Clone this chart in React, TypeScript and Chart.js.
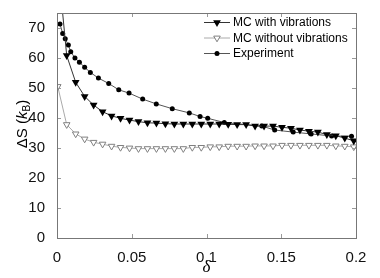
import React, { useEffect, useRef } from 'react';
import { Chart, registerables } from 'chart.js';

Chart.register(...registerables);

// MC grid of delta values
const mcDelta = [
  0.0005, 0.0065, 0.0125, 0.0185, 0.0245, 0.0305, 0.0365, 0.0425, 0.0485, 0.0545,
  0.0605, 0.0665, 0.0725, 0.0785, 0.0845, 0.0905, 0.0965, 0.1025, 0.1085, 0.1145,
  0.1205, 0.1265, 0.1325, 0.1385, 0.1445, 0.1505, 0.1565, 0.1625, 0.1685, 0.1745,
  0.1805, 0.1865, 0.1925, 0.1985,
];
const mcWithVib = [
  92, 60.8, 51.9, 47.2, 44.3, 42.1, 40.7, 39.9, 39.3, 38.8,
  38.4, 38.3, 38.1, 38.0, 38.0, 38.0, 38.0, 38.0, 38.0, 37.9,
  37.8, 37.8, 37.3, 37.3, 37.3, 36.9, 36.6, 36.0, 35.6, 35.3,
  34.5, 34.1, 33.3, 32.4,
];
const mcWithoutVib = [
  50.5, 37.8, 34.7, 33.0, 31.9, 31.3, 30.6, 30.2, 30.0, 29.8,
  29.8, 29.8, 29.8, 29.8, 29.8, 30.2, 30.2, 30.4, 30.4, 30.6,
  30.6, 30.6, 30.7, 30.7, 30.7, 30.9, 30.9, 30.9, 30.9, 30.9,
  30.9, 30.7, 30.6, 30.4,
];
const expDelta = [
  0.002, 0.0038, 0.0055, 0.0076, 0.0092, 0.012, 0.015, 0.0185, 0.0223, 0.0277,
  0.0346, 0.0413, 0.0482, 0.0573, 0.0664, 0.0771, 0.0885, 0.0957, 0.1008, 0.1119,
  0.137, 0.1456, 0.158, 0.17, 0.1837, 0.197,
];
const expValues = [
  71.3, 68.2, 66.4, 64.3, 62.1, 60.0, 58.6, 56.9, 55.2, 53.3,
  51.5, 49.4, 48.3, 46.3, 44.7, 43.1, 41.7, 40.5, 39.9, 38.5,
  37.3, 36.0, 35.3, 34.7, 34.0, 33.9,
];
const xTicks = [0, 0.05, 0.1, 0.15, 0.2];
const yTicks = [0, 10, 20, 30, 40, 50, 60, 70];
const seriesNames = ['MC with vibrations', 'MC without vibrations', 'Experiment'];

const SANS = "'Liberation Sans', Arial, sans-serif";

type Sty = { line: string; shape: 'tri' | 'otri' | 'circle'; r: number };
const legendStyles: Sty[] = [
  { line: '#333333', shape: 'tri', r: 4.5 },
  { line: '#aaaaaa', shape: 'otri', r: 3.8 },
  { line: '#555555', shape: 'circle', r: 2.5 },
];

function drawMarker(ctx: CanvasRenderingContext2D, x: number, y: number, s: Sty) {
  ctx.save();
  ctx.beginPath();
  if (s.shape === 'circle') {
    ctx.arc(x, y, s.r, 0, Math.PI * 2);
    ctx.fillStyle = '#000';
    ctx.fill();
  } else {
    const r = s.r;
    for (let i = 0; i < 3; i++) {
      const a = Math.PI + (i * 2 * Math.PI) / 3;
      const px = x + Math.sin(a) * r;
      const py = y - Math.cos(a) * r;
      if (i === 0) ctx.moveTo(px, py);
      else ctx.lineTo(px, py);
    }
    ctx.closePath();
    if (s.shape === 'tri') {
      ctx.fillStyle = '#000';
      ctx.fill();
    } else {
      ctx.fillStyle = '#fff';
      ctx.fill();
      ctx.strokeStyle = '#808080';
      ctx.lineWidth = 1;
      ctx.stroke();
    }
  }
  ctx.restore();
}

const decorPlugin = {
  id: 'decor',
  afterDraw(chart: any) {
    const { ctx, chartArea: a, scales } = chart;
    const xs = scales.x;
    const ys = scales.y;
    ctx.save();
    // tick marks
    ctx.strokeStyle = '#9a9a9a';
    ctx.lineWidth = 1;
    ctx.beginPath();
    xTicks.forEach((v) => {
      const px = Math.round(xs.getPixelForValue(v)) + 0.5;
      ctx.moveTo(px, a.bottom);
      ctx.lineTo(px, a.bottom - 4);
      ctx.moveTo(px, a.top);
      ctx.lineTo(px, a.top + 4);
    });
    yTicks.forEach((v) => {
      const py = Math.round(ys.getPixelForValue(v)) + 0.5;
      ctx.moveTo(a.left, py);
      ctx.lineTo(a.left + 4, py);
      ctx.moveTo(a.right, py);
      ctx.lineTo(a.right - 4, py);
    });
    ctx.stroke();
    // box
    ctx.strokeStyle = '#777';
    ctx.strokeRect(Math.round(a.left) + 0.5, Math.round(a.top) + 0.5, Math.round(a.right - a.left), Math.round(a.bottom - a.top));

    // legend
    const lx0 = 204, lx1 = 230, tx = 233;
    seriesNames.forEach((name, i) => {
      const y = 22 + i * 15.5;
      const s = legendStyles[i];
      ctx.strokeStyle = s.line;
      ctx.lineWidth = 1;
      ctx.beginPath();
      ctx.moveTo(lx0, y + 0.5);
      ctx.lineTo(lx1, y + 0.5);
      ctx.stroke();
      drawMarker(ctx, (lx0 + lx1) / 2, y + 0.5, s);
      ctx.fillStyle = '#000';
      ctx.font = `12px ${SANS}`;
      ctx.textAlign = 'left';
      ctx.textBaseline = 'middle';
      ctx.fillText(name, tx, y + 1);
    });

    // x title
    ctx.fillStyle = '#000';
    ctx.font = "italic 17px 'Liberation Serif', serif";
    ctx.textAlign = 'center';
    ctx.textBaseline = 'middle';
    ctx.fillText('δ', (a.left + a.right) / 2, 268);

    // y title: ΔS (k_B)
    ctx.translate(23, 124);
    ctx.rotate(-Math.PI / 2);
    const f1 = `15px ${SANS}`;
    const fk = `italic 15px ${SANS}`;
    const fs = `10px ${SANS}`;
    const parts: [string, string, number][] = [
      ['ΔS (', f1, 0],
      ['k', fk, 0],
      ['B', fs, 4],
      [')', f1, 0],
    ];
    let total = 0;
    parts.forEach(([t, f]) => { ctx.font = f; total += ctx.measureText(t).width; });
    let cx = -total / 2;
    ctx.textAlign = 'left';
    ctx.textBaseline = 'middle';
    parts.forEach(([t, f, dy]) => {
      ctx.font = f;
      ctx.fillText(t, cx, dy);
      cx += ctx.measureText(t).width;
    });
    ctx.restore();
  },
};

export default function App() {
  const ref = useRef<HTMLCanvasElement>(null);
  useEffect(() => {
    if (!ref.current) return;
    const chart = new Chart(ref.current, {
      type: 'line',
      data: {
        datasets: [
          {
            label: seriesNames[0],
            data: mcDelta.map((x, i) => ({ x, y: mcWithVib[i] })),
            borderColor: '#333333',
            borderWidth: 1,
            backgroundColor: '#000',
            pointStyle: 'triangle',
            pointRotation: 180,
            pointRadius: 4.5,
            pointBorderWidth: 0,
            pointBackgroundColor: '#000',
            tension: 0,
          },
          {
            label: seriesNames[1],
            data: mcDelta.map((x, i) => ({ x, y: mcWithoutVib[i] })),
            borderColor: '#aaaaaa',
            borderWidth: 1,
            pointStyle: 'triangle',
            pointRotation: 180,
            pointRadius: 3.8,
            pointBorderWidth: 1,
            pointBorderColor: '#808080',
            pointBackgroundColor: '#fff',
            tension: 0,
          },
          {
            label: seriesNames[2],
            data: expDelta.map((x, i) => ({ x, y: expValues[i] })),
            borderColor: '#555555',
            borderWidth: 1,
            pointStyle: 'circle',
            pointRadius: 2.5,
            pointBorderWidth: 0,
            pointBackgroundColor: '#000',
            tension: 0,
          },
        ],
      },
      options: {
        animation: false,
        responsive: true,
        maintainAspectRatio: false,
        layout: { padding: { top: 8, right: 24, left: 0, bottom: 0 } },
        plugins: {
          legend: { display: false },
          tooltip: { enabled: false },
        },
        scales: {
          x: {
            type: 'linear',
            min: 0,
            max: 0.2,
            grid: { display: false },
            border: { display: false },
            afterBuildTicks: (s: any) => { s.ticks = xTicks.map((v) => ({ value: v })); },
            afterFit: (s: any) => { s.height = 40; },
            ticks: {
              padding: 3,
              color: '#111',
              font: { family: SANS, size: 15 },
              maxRotation: 0,
              callback: (v: any) => String(v),
            },
          },
          y: {
            type: 'linear',
            min: 0,
            max: 75,
            grid: { display: false },
            border: { display: false },
            afterBuildTicks: (s: any) => { s.ticks = yTicks.map((v) => ({ value: v })); },
            afterFit: (s: any) => { s.width = 57; },
            ticks: {
              padding: 4,
              color: '#111',
              font: { family: SANS, size: 15 },
              callback: (v: any) => String(v),
            },
          },
        },
      },
      plugins: [decorPlugin],
    } as any);
    return () => chart.destroy();
  }, []);
  return (
    <div style={{ position: 'fixed', left: 0, top: 0, width: 380, height: 278, background: '#fff' }}>
      <canvas ref={ref} width={380} height={278} />
    </div>
  );
}
